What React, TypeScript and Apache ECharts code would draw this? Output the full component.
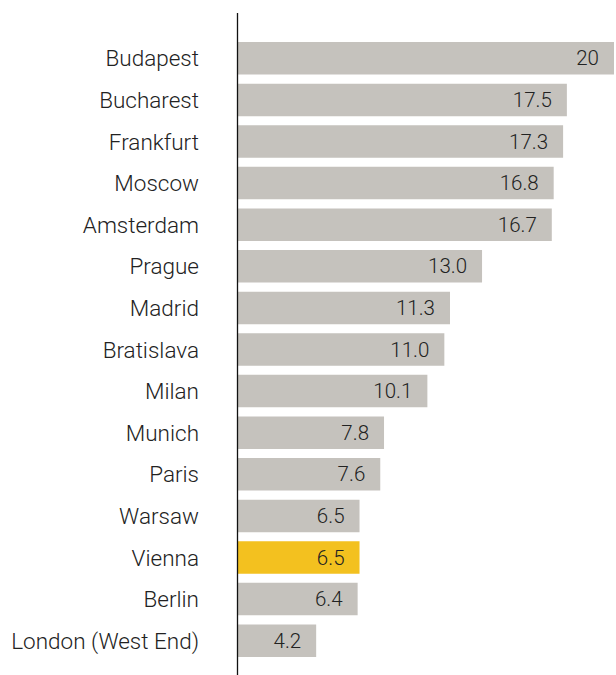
import React, { useEffect, useRef } from "react";
import * as echarts from "echarts";

const categories = [
  "Budapest", "Bucharest", "Frankfurt", "Moscow", "Amsterdam", "Prague", "Madrid",
  "Bratislava", "Milan", "Munich", "Paris", "Warsaw", "Vienna", "Berlin", "London (West End)",
];
const values = [20, 17.5, 17.3, 16.8, 16.7, 13.0, 11.3, 11.0, 10.1, 7.8, 7.6, 6.5, 6.5, 6.4, 4.2];
const valueLabels = ["20", "17.5", "17.3", "16.8", "16.7", "13.0", "11.3", "11.0", "10.1", "7.8", "7.6", "6.5", "6.5", "6.4", "4.2"];
const highlighted = "Vienna";

const FONT = "Roboto";

export default function App() {
  const ref = useRef<HTMLDivElement>(null);
  useEffect(() => {
    if (!ref.current) return;
    const chart = echarts.init(ref.current, undefined, { renderer: "svg" });
    chart.setOption({
      animation: false,
      grid: { left: 237, right: 2, top: 37.5, bottom: 13.5, containLabel: false },
      xAxis: {
        type: "value",
        min: 0,
        max: 20,
        show: false,
      },
      yAxis: {
        type: "category",
        inverse: true,
        data: categories,
        axisLine: { show: false },
        axisTick: { show: false },
        axisLabel: {
          margin: 38,
          fontFamily: FONT,
          fontWeight: 300,
          fontSize: 22.5,
          color: "#222222",
          verticalAlign: "middle",
          padding: [6, 0, 0, 0],
        },
      },
      graphic: [
        {
          type: "line",
          shape: { x1: 237.5, y1: 13, x2: 237.5, y2: 675 },
          style: { stroke: "#111111", lineWidth: 1.3 },
          z: 100,
        },
      ],
      series: [
        {
          type: "bar",
          barWidth: 32.5,
          data: values.map((v, i) => ({
            value: v,
            itemStyle: { color: categories[i] === highlighted ? "#f3c11f" : "#c5c2bd" },
          })),
          label: {
            show: true,
            position: "insideRight",
            distance: 15,
            formatter: (p: any) => valueLabels[p.dataIndex],
            fontFamily: FONT,
            fontWeight: 300,
            fontSize: 20.5,
            color: "#222222",
            padding: [6, 0, 0, 0],
          },
        },
      ],
    });
    return () => chart.dispose();
  }, []);
  return <div ref={ref} style={{ width: 616, height: 675, position: "absolute", left: 0, top: 0 }} />;
}
